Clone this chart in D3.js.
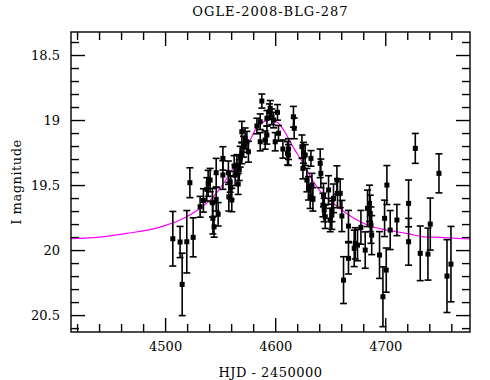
<!DOCTYPE html>
<html>
<head>
<meta charset="utf-8">
<script src="https://cdn.jsdelivr.net/npm/d3@7"></script>
<style>
  body { margin: 0; background: #fff; }
  svg text { font-family: "DejaVu Serif", "Liberation Serif", serif; fill: #000; }
</style>
</head>
<body>
<div id="chart"></div>
<script>
// observed points (HJD - 2450000), I magnitude and error
const hjd = [4507.0, 4513.6, 4519.7, 4515.5, 4525.5, 4522.5, 4531.8, 4534.8, 4537.9, 4539.1,
  4540.9, 4543.0, 4543.4, 4544.5, 4548.2, 4546.4, 4546.4, 4552.5, 4557.5, 4557.9,
  4559.7, 4560.6, 4562.7, 4566.4, 4567.3, 4552.5, 4569.7, 4572.7, 4574.3, 4571.2,
  4575.7, 4569.7, 4568.2, 4565.2, 4563.6, 4559.1, 4587.9, 4595.5, 4594.8, 4597.0,
  4598.5, 4592.5, 4602.1, 4586.4, 4583.4, 4592.5, 4590.9, 4586.4, 4600.0, 4603.0,
  4607.0, 4612.1, 4611.2, 4616.6, 4617.3, 4612.1, 4624.3, 4625.7, 4627.3, 4632.5,
  4625.2, 4628.8, 4630.3, 4633.4, 4631.8, 4634.3, 4640.9, 4641.5, 4648.5, 4643.9,
  4643.4, 4644.5, 4645.5, 4650.0, 4651.5, 4653.0, 4656.1, 4656.6, 4659.1, 4660.6,
  4666.6, 4672.7, 4674.8, 4666.6, 4651.5, 4662.1, 4671.8, 4677.9, 4681.8, 4683.9,
  4685.7, 4686.4, 4687.0, 4687.7, 4694.8, 4697.9, 4699.4, 4701.5, 4700.9, 4704.5,
  4710.6, 4721.2, 4721.2, 4727.3, 4731.8, 4738.8, 4740.9, 4748.8, 4756.1, 4759.7];
const mag = [19.913, 19.938, 19.936, 20.264, 19.902, 19.482, 19.667, 19.618, 19.533, 19.487,
  19.462, 19.636, 19.756, 19.821, 19.725, 19.610, 19.405, 19.423, 19.405, 19.590,
  19.518, 19.615, 19.354, 19.492, 19.385, 19.295, 19.090, 19.141, 19.167, 19.205,
  19.244, 19.256, 19.282, 19.346, 19.423, 19.475, 18.854, 18.910, 18.936, 18.975,
  19.000, 18.987, 18.941, 19.013, 19.046, 19.115, 19.154, 19.167, 19.167, 19.102,
  19.223, 19.223, 19.256, 18.975, 19.064, 19.269, 19.205, 19.252, 19.269, 19.295,
  19.372, 19.462, 19.525, 19.500, 19.590, 19.610, 19.333, 19.410, 19.538, 19.577,
  19.654, 19.692, 19.744, 19.769, 19.731, 19.602, 19.462, 19.564, 19.564, 19.738,
  19.815, 19.948, 19.962, 20.064, 19.692, 20.231, 19.987, 19.825, 20.000, 19.679,
  19.641, 19.718, 19.808, 19.885, 20.038, 20.359, 19.756, 19.500, 20.154, 19.846,
  19.769, 19.641, 19.936, 19.218, 20.025, 20.031, 19.800, 19.410, 20.200, 20.108];
const magErr = [0.21, 0.12, 0.24, 0.24, 0.15, 0.115, 0.08, 0.09, 0.09, 0.10,
  0.09, 0.11, 0.12, 0.08, 0.09, 0.09, 0.11, 0.11, 0.09, 0.11,
  0.09, 0.09, 0.08, 0.08, 0.08, 0.09, 0.08, 0.08, 0.08, 0.08,
  0.08, 0.08, 0.08, 0.08, 0.08, 0.08, 0.054, 0.06, 0.06, 0.06,
  0.06, 0.06, 0.06, 0.06, 0.06, 0.07, 0.07, 0.07, 0.07, 0.06,
  0.07, 0.08, 0.09, 0.08, 0.08, 0.08, 0.09, 0.08, 0.08, 0.06,
  0.08, 0.09, 0.09, 0.09, 0.09, 0.09, 0.11, 0.11, 0.11, 0.09,
  0.09, 0.09, 0.09, 0.09, 0.11, 0.11, 0.11, 0.11, 0.11, 0.12,
  0.12, 0.12, 0.12, 0.12, 0.09, 0.18, 0.14, 0.13, 0.14, 0.14,
  0.14, 0.14, 0.14, 0.15, 0.18, 0.23, 0.14, 0.15, 0.17, 0.15,
  0.12, 0.18, 0.18, 0.115, 0.21, 0.20, 0.20, 0.15, 0.28, 0.29];

// model curve
const modelHjd = [4414.5, 4434.8, 4465.2, 4495.5, 4513.6, 4531.8, 4542.5, 4550.0, 4556.1, 4565.2,
  4575.7, 4584.8, 4590.9, 4595.5, 4600.0, 4604.5, 4610.6, 4616.6, 4622.7, 4628.8,
  4634.8, 4643.9, 4653.0, 4662.1, 4674.3, 4686.4, 4698.5, 4710.6, 4722.7, 4734.8,
  4750.0, 4765.2, 4777.3];
const modelMag = [19.912, 19.905, 19.872, 19.823, 19.769, 19.679, 19.602, 19.525, 19.448, 19.321,
  19.179, 19.038, 19.008, 18.996, 19.008, 19.038, 19.119, 19.212, 19.295, 19.385,
  19.475, 19.577, 19.641, 19.702, 19.769, 19.815, 19.841, 19.859, 19.878, 19.898,
  19.902, 19.910, 19.915];

const xTicks = [4500, 4600, 4700];
const yTicks = [18.5, 19, 19.5, 20, 20.5];

const width = 490, height = 380;
const plot = { left: 71, right: 470, top: 32, bottom: 332 };

const svg = d3.select('#chart').append('svg')
  .attr('width', width)
  .attr('height', height);

const x = d3.scaleLinear().domain([4414.5, 4777]).range([plot.left, plot.right]);
const y = d3.scaleLinear().domain([18.323, 20.63]).range([plot.top, plot.bottom]);

const xMinor = d3.range(4420, 4780, 20).filter(v => !xTicks.includes(v));
const yMinor = d3.range(184, 207, 1).map(v => v / 10).filter(v => !yTicks.includes(v) && v > 18.323 && v < 20.63);

function styleAxis(g) {
  g.select('.domain').remove();
  g.selectAll('line').attr('stroke', '#000').attr('stroke-width', 1.4);
  g.selectAll('text').attr('font-size', 13);
}

// axes: major + minor ticks on all four sides
svg.append('g').attr('transform', `translate(0,${plot.bottom})`)
  .call(d3.axisBottom(x).tickValues(xTicks).tickSize(-14).tickPadding(10).tickFormat(d3.format('d')))
  .call(styleAxis);
svg.append('g').attr('transform', `translate(0,${plot.bottom})`)
  .call(d3.axisBottom(x).tickValues(xMinor).tickSize(-8).tickFormat(''))
  .call(styleAxis);
svg.append('g').attr('transform', `translate(0,${plot.top})`)
  .call(d3.axisTop(x).tickValues(xTicks).tickSize(-14).tickFormat(''))
  .call(styleAxis);
svg.append('g').attr('transform', `translate(0,${plot.top})`)
  .call(d3.axisTop(x).tickValues(xMinor).tickSize(-8).tickFormat(''))
  .call(styleAxis);
svg.append('g').attr('transform', `translate(${plot.left},0)`)
  .call(d3.axisLeft(y).tickValues(yTicks).tickSize(-14).tickPadding(11).tickFormat(d => d))
  .call(styleAxis);
svg.append('g').attr('transform', `translate(${plot.left},0)`)
  .call(d3.axisLeft(y).tickValues(yMinor).tickSize(-8).tickFormat(''))
  .call(styleAxis);
svg.append('g').attr('transform', `translate(${plot.right},0)`)
  .call(d3.axisRight(y).tickValues(yTicks).tickSize(-14).tickFormat(''))
  .call(styleAxis);
svg.append('g').attr('transform', `translate(${plot.right},0)`)
  .call(d3.axisRight(y).tickValues(yMinor).tickSize(-8).tickFormat(''))
  .call(styleAxis);

svg.append('defs').append('clipPath').attr('id', 'clip')
  .append('rect')
  .attr('x', plot.left).attr('y', plot.top)
  .attr('width', plot.right - plot.left).attr('height', plot.bottom - plot.top);

const inner = svg.append('g').attr('clip-path', 'url(#clip)');

// model curve
const line = d3.line()
  .x((d, i) => x(modelHjd[i]))
  .y(d => y(d))
  .curve(d3.curveMonotoneX);
inner.append('path')
  .datum(modelMag)
  .attr('d', line)
  .attr('fill', 'none')
  .attr('stroke', '#ff00ff')
  .attr('stroke-width', 1.2);

// data with error bars
const pts = hjd.map((h, i) => ({ h: h, m: mag[i], e: magErr[i] }));
const cap = 3.5;
const eb = inner.append('g').attr('stroke', '#000').attr('stroke-width', 1.6);
pts.forEach(d => {
  const cx = x(d.h), y1 = y(d.m - d.e), y2 = y(d.m + d.e);
  eb.append('line').attr('x1', cx).attr('x2', cx).attr('y1', y1).attr('y2', y2);
  eb.append('line').attr('x1', cx - cap).attr('x2', cx + cap).attr('y1', y1).attr('y2', y1);
  eb.append('line').attr('x1', cx - cap).attr('x2', cx + cap).attr('y1', y2).attr('y2', y2);
});
inner.append('g').selectAll('rect')
  .data(pts)
  .join('rect')
  .attr('x', d => x(d.h) - 2.5)
  .attr('y', d => y(d.m) - 2.5)
  .attr('width', 5)
  .attr('height', 5)
  .attr('fill', '#000');

// frame
svg.append('rect')
  .attr('x', plot.left).attr('y', plot.top)
  .attr('width', plot.right - plot.left).attr('height', plot.bottom - plot.top)
  .attr('fill', 'none').attr('stroke', '#000').attr('stroke-width', 1.4);

// labels
svg.append('text')
  .attr('x', (plot.left + plot.right) / 2).attr('y', 16)
  .attr('text-anchor', 'middle').attr('font-size', 13).attr('letter-spacing', 1)
  .text('OGLE-2008-BLG-287');
svg.append('text')
  .attr('x', (plot.left + plot.right) / 2).attr('y', 377)
  .attr('text-anchor', 'middle').attr('font-size', 13).attr('letter-spacing', 0.5)
  .text('HJD - 2450000');
svg.append('text')
  .attr('transform', `translate(21,${(plot.top + plot.bottom) / 2}) rotate(-90)`)
  .attr('text-anchor', 'middle').attr('font-size', 13).attr('letter-spacing', 0.5)
  .text('I magnitude');
</script>
</body>
</html>
